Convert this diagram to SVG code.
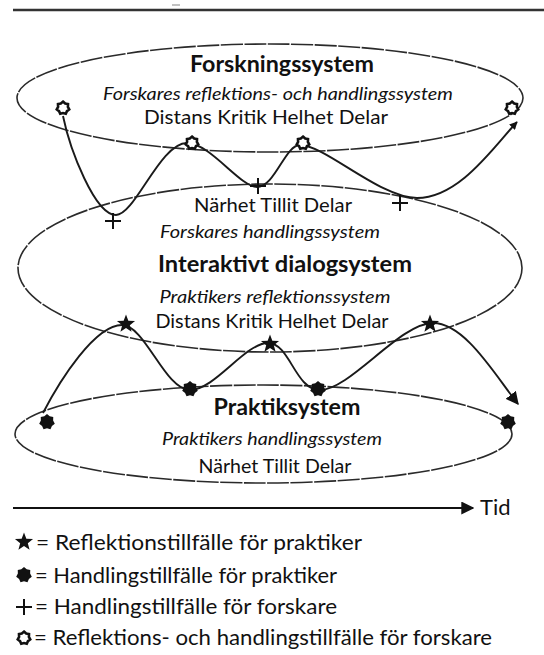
<svg xmlns="http://www.w3.org/2000/svg" width="544" height="655" viewBox="0 0 544 655">
<style>
.ell{fill:none;stroke:#2a2a2a;stroke-width:1.6;stroke-dasharray:22 1.5}
.con{fill:none;stroke:#1a1a1a;stroke-width:1.9}
text{font-family:Lato,"Open Sans","Liberation Sans",sans-serif;fill:#111;text-anchor:middle}
.b{font-weight:bold;font-size:23px}
.i{font-style:italic;font-size:17.5px}
.r{font-size:20px}
.lg{font-size:22px;text-anchor:start}
.sym{fill:#111}
.fl{fill:#fff;stroke:#111;stroke-width:2.6}
.pl{stroke:#111;stroke-width:2;fill:none}
</style>
<defs>
<marker id="ah" viewBox="0 0 10 10" refX="9" refY="5" markerWidth="8" markerHeight="8" markerUnits="userSpaceOnUse" orient="auto"><path d="M0,0L10,5L0,10z" fill="#111"/></marker>
<marker id="ah2" viewBox="0 0 10 10" refX="9" refY="5" markerWidth="13" markerHeight="13" markerUnits="userSpaceOnUse" orient="auto"><path d="M0,0L10,5L0,10z" fill="#111"/></marker>
<polygon id="star" points="0,-9.5 2.35,-3.24 9.04,-2.94 3.81,1.24 5.58,7.69 0,4 -5.58,7.69 -3.81,1.24 -9.04,-2.94 -2.35,-3.24"/>
<polygon id="blob" points="0,-8 2.73,-5.68 6.25,-4.99 6.14,-1.4 7.8,1.78 4.92,3.93 3.47,7.21 0,6.3 -3.47,7.21 -4.92,3.93 -7.8,1.78 -6.14,-1.4 -6.25,-4.99 -2.73,-5.68"/>
<polygon id="flower" points="0,-6.4 2.18,-4.54 5,-4 4.9,-1.1 6.24,1.42 3.94,3.14 2.78,5.77 0,5 -2.78,5.77 -3.94,3.14 -6.24,1.42 -4.9,-1.1 -5,-4 -2.18,-4.54"/>
<g id="plus"><line x1="-8" y1="0" x2="8" y2="0"/><line x1="0" y1="-8" x2="0" y2="8"/></g>
</defs>
<rect width="544" height="655" fill="#fff"/>
<line x1="13" y1="10" x2="544" y2="10" stroke="#333" stroke-width="2.5"/>
<line x1="172" y1="5" x2="180" y2="5" stroke="#999" stroke-width="1.2"/>

<g id="forskningssystem">
<ellipse class="ell" cx="270" cy="98" rx="253" ry="54"/>
<text class="b" x="282" y="72" textLength="184" lengthAdjust="spacingAndGlyphs">Forskningssystem</text>
<text class="i" x="278" y="100" textLength="350" lengthAdjust="spacingAndGlyphs">Forskares reflektions- och handlingssystem</text>
<text class="r" x="266" y="124" textLength="244" lengthAdjust="spacingAndGlyphs">Distans Kritik  Helhet  Delar</text>
</g>

<g id="dialogsystem">
<ellipse class="ell" cx="270" cy="268" rx="252" ry="84"/>
<text class="r" x="273" y="212" textLength="158" lengthAdjust="spacingAndGlyphs">Närhet Tillit Delar</text>
<text class="i" x="270" y="238" textLength="220" lengthAdjust="spacingAndGlyphs">Forskares handlingssystem</text>
<text class="b" x="285" y="272" textLength="254" lengthAdjust="spacingAndGlyphs">Interaktivt dialogsystem</text>
<text class="i" x="275" y="303" textLength="231" lengthAdjust="spacingAndGlyphs">Praktikers reflektionssystem</text>
<text class="r" x="272" y="328" textLength="233" lengthAdjust="spacingAndGlyphs">Distans Kritik Helhet Delar</text>
</g>

<g id="praktiksystem">
<ellipse class="ell" cx="263.5" cy="434" rx="248.5" ry="49"/>
<text class="b" x="287" y="415" textLength="147" lengthAdjust="spacingAndGlyphs">Praktiksystem</text>
<text class="i" x="272" y="445" textLength="220" lengthAdjust="spacingAndGlyphs">Praktikers handlingssystem</text>
<text class="r" x="275" y="473" textLength="153" lengthAdjust="spacingAndGlyphs">Närhet Tillit Delar</text>
</g>

<g id="connectors">
<path class="con" marker-end="url(#ah)" d="M63,116 C70,150 95,215 116,215 C135,215 160,143 187,143 C210,143 240,187 257,187 C275,187 285,145 300,145 C325,145 380,198 417,198 C460,198 495,145 517,122"/>
<path class="con" marker-end="url(#ah2)" d="M43,413 C60,380 95,325 122,325 C145,325 165,390 190,390 C215,390 245,343 268,343 C290,343 295,390 320,390 C350,390 400,323 433,323 C465,323 495,375 518,404"/>
<line x1="13" y1="508" x2="473" y2="508" stroke="#111" stroke-width="2" marker-end="url(#ah2)"/>
</g>

<g id="markers">
<use href="#flower" class="fl" x="63" y="108"/>
<use href="#flower" class="fl" x="192" y="143"/>
<use href="#flower" class="fl" x="303" y="143"/>
<use href="#flower" class="fl" x="512" y="108"/>
<use href="#plus" class="pl" x="113" y="221"/>
<use href="#plus" class="pl" x="258" y="186"/>
<use href="#plus" class="pl" x="400" y="203"/>
<use href="#star" class="sym" x="126" y="324"/>
<use href="#star" class="sym" x="270" y="344"/>
<use href="#star" class="sym" x="430" y="324"/>
<use href="#blob" class="sym" x="47" y="422"/>
<use href="#blob" class="sym" x="190" y="389"/>
<use href="#blob" class="sym" x="318" y="389"/>
<use href="#blob" class="sym" x="508" y="422"/>
</g>

<g id="tid">
<text class="lg" x="480" y="515" style="font-size:22px">Tid</text>
</g>

<g id="legend">
<use href="#star" class="sym" x="24" y="542"/>
<text class="lg" x="36" y="550" textLength="326" lengthAdjust="spacingAndGlyphs">= Reflektionstillfälle för praktiker</text>
<use href="#blob" class="sym" x="24" y="575"/>
<text class="lg" x="35" y="583" textLength="302" lengthAdjust="spacingAndGlyphs">= Handlingstillfälle för praktiker</text>
<use href="#plus" class="pl" x="24" y="607"/>
<text class="lg" x="35" y="614" textLength="302" lengthAdjust="spacingAndGlyphs">= Handlingstillfälle för forskare</text>
<use href="#flower" class="fl" x="24" y="638"/>
<text class="lg" x="34" y="645" textLength="458" lengthAdjust="spacingAndGlyphs">= Reflektions- och handlingstillfälle för forskare</text>
</g>
</svg>
